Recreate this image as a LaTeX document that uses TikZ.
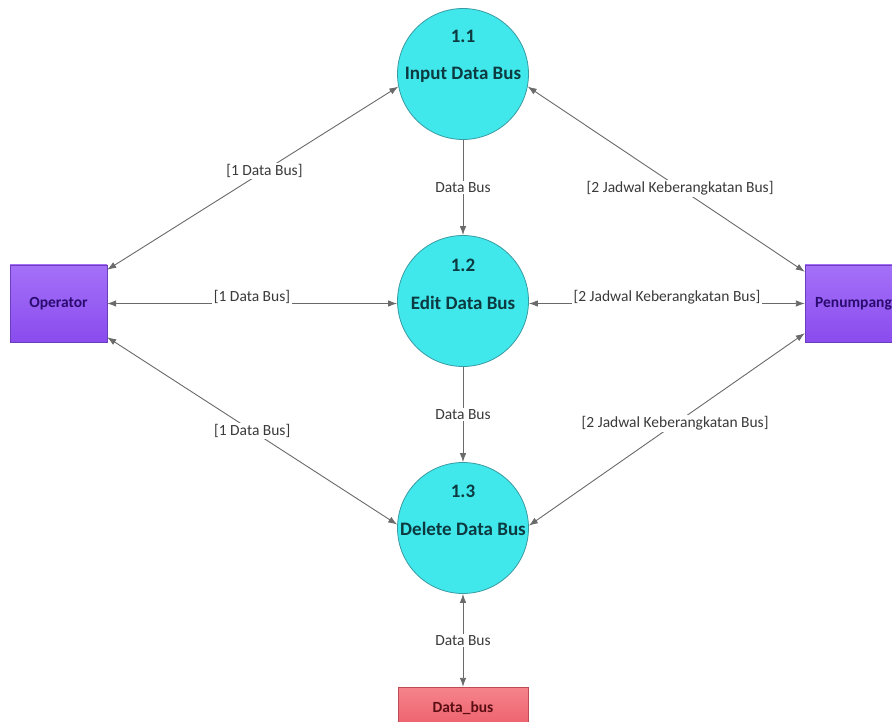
\documentclass[tikz,border=0pt]{standalone}
\usepackage{fontspec}
\setmainfont{Carlito}
\usetikzlibrary{arrows.meta,calc}

\definecolor{proccyan}{HTML}{40E7EB}
\definecolor{procedge}{HTML}{3A9CA3}
\definecolor{proctext}{HTML}{0C3A40}
\definecolor{entitytop}{HTML}{A470F8}
\definecolor{entitybot}{HTML}{8A4CEE}
\definecolor{entitytext}{HTML}{2A0B70}
\definecolor{storetop}{HTML}{F6848C}
\definecolor{storebot}{HTML}{EC5E6A}
\definecolor{storetext}{HTML}{5A0E14}
\definecolor{flowline}{HTML}{6A6A6A}
\definecolor{flowtext}{HTML}{3A3A3A}

\tikzset{
  >={Latex[length=9pt,width=6.5pt]},
  process/.style={circle, minimum size=131pt, inner sep=0pt,
    fill=proccyan, draw=procedge, line width=0.8pt},
  proclabel/.style={font=\fontsize{19}{22}\selectfont\bfseries, text=proctext, inner sep=0pt},
  entity/.style={rectangle, minimum width=97pt, minimum height=77pt,
    top color=entitytop, bottom color=entitybot, draw=entitybot!80!black, line width=0.4pt,
    font=\fontsize{15.5}{18}\selectfont\bfseries, text=entitytext},
  store/.style={rectangle, minimum width=130pt, minimum height=42pt,
    top color=storetop, bottom color=storebot, draw=storebot!80!black, line width=0.4pt,
    font=\fontsize{15.5}{18}\selectfont\bfseries, text=storetext},
  flow/.style={draw=flowline, line width=0.9pt},
  flowlabel/.style={fill=white, inner sep=1.5pt, text=flowtext,
    font=\fontsize{15.5}{18}\selectfont},
}

\begin{document}
\begin{tikzpicture}[x=1pt,y=-1pt]
\useasboundingbox (0,0) rectangle (892,722);
\clip (0,0) rectangle (892,722);
\fill[white] (0,0) rectangle (892,722);

% processes
\node[process] (p1) at (463,74) {};
\node[proclabel] (p1num) at ($(p1)+(0,-38)$) {1.1};
\node[proclabel] (p1name) at ($(p1)+(0,1)$) {Input Data Bus};

\node[process] (p2) at (463,301) {};
\node[proclabel] (p2num) at ($(p2)+(0,-36)$) {1.2};
\node[proclabel] (p2name) at ($(p2)+(0,2)$) {Edit Data Bus};

\node[process] (p3) at (463,528) {};
\node[proclabel] (p3num) at ($(p3)+(0,-37)$) {1.3};
\node[proclabel] (p3name) at ($(p3)+(0,1)$) {Delete Data Bus};

% external entities and data store
\node[entity] (op) at (58.5,303.5) {Operator};
\node[entity] (pen) at (853.5,303.5) {Penumpang};
\node[store] (db) at (463,708) {Data\_bus};

% flows between Operator and the processes
\draw[flow,<->] ($(op.north east)+(0,5)$) -- node[flowlabel,pos=0.54] (f1) {[1 Data Bus]} (p1.191);
\draw[flow,<->] (op.east) -- (op.east -| p2.west);
\node[flowlabel] (f2) at (252,297) {[1 Data Bus]};
\draw[flow,<->] ($(op.south east)+(0,-5)$) -- node[flowlabel,pos=0.5] (f3) {[1 Data Bus]} (p3.177);

% flows between the processes and Penumpang
\draw[flow,<->] (p1.349) -- node[flowlabel,pos=0.55] (f4) {[2 Jadwal Keberangkatan Bus]} ($(pen.north west)+(0,7)$);
\draw[flow,<->] (pen.west -| p2.east) -- (pen.west);
\node[flowlabel] (f5) at (667,297) {[2 Jadwal Keberangkatan Bus]};
\draw[flow,<->] (p3.2) -- node[flowlabel,pos=0.53] (f6) {[2 Jadwal Keberangkatan Bus]} ($(pen.south west)+(0,-9)$);

% flows down the column
\draw[flow,->] (p1) -- node[flowlabel] (f7) {Data Bus} (p2);
\draw[flow,->] (p2) -- node[flowlabel] (f8) {Data Bus} (p3);
\draw[flow,<->] (p3) -- node[flowlabel] (f9) {Data Bus} (db);
\end{tikzpicture}
\end{document}
